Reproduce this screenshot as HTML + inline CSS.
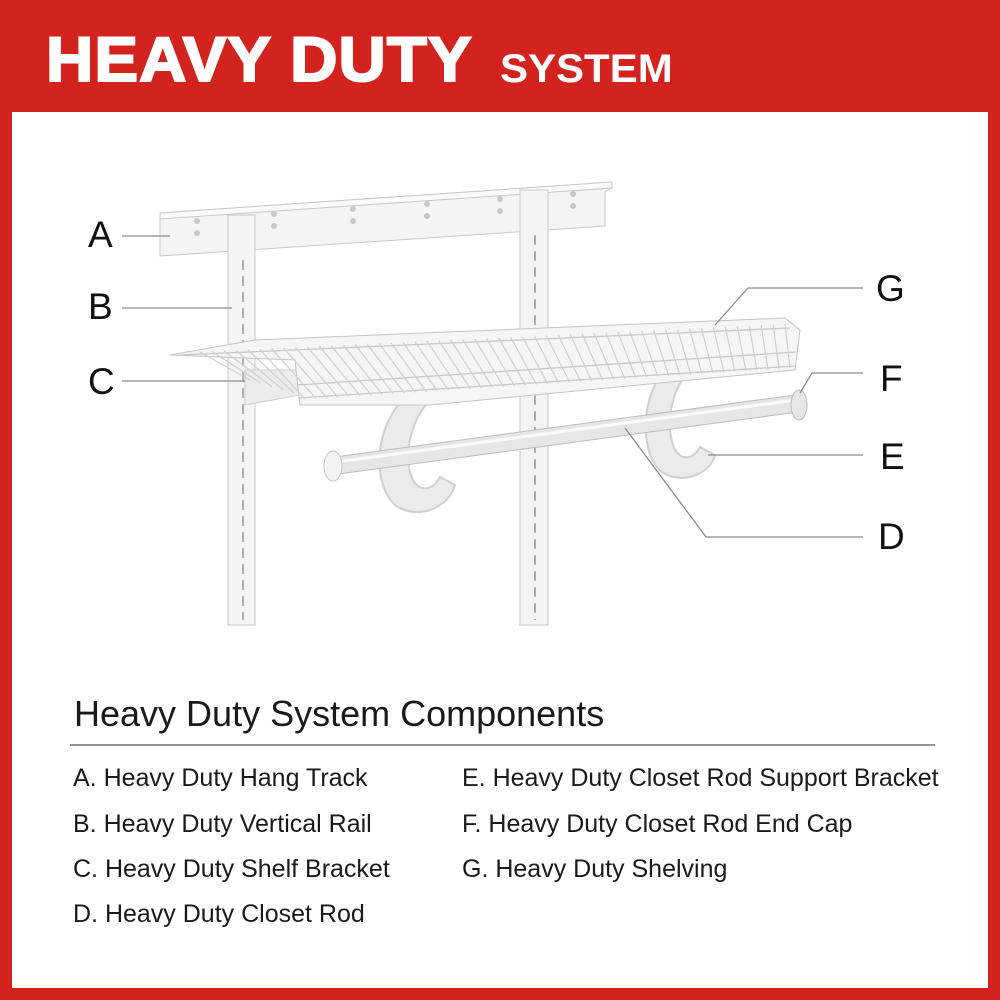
<!DOCTYPE html>
<html><head><meta charset="utf-8"><style>
html,body{margin:0;padding:0}
body{width:1000px;height:1000px;background:#d3231f;position:relative;overflow:hidden;font-family:"Liberation Sans",Arial,sans-serif}
.inner{position:absolute;left:12px;top:112px;width:976px;height:876px;background:#fff}
.t{position:absolute;color:#fff;font-weight:bold;white-space:nowrap;transform-origin:left top}
.lbl{position:absolute;font-size:37px;color:#111;line-height:1}
.item{position:absolute;font-size:25px;color:#1a1a1a;white-space:nowrap;line-height:1}
</style></head><body>
<div class="t" style="left:46px;top:24px;font-size:63px;letter-spacing:1px;transform:scaleX(1.04);-webkit-text-stroke:2px #fff">HEAVY DUTY</div>
<div class="t" style="left:500px;top:47px;font-size:40px;transform:scaleX(1.05)">SYSTEM</div>
<div class="inner"></div>
<svg style="position:absolute;left:0;top:0" width="1000" height="1000">
 <g fill="#f4f4f5" stroke="#c8c8cc" stroke-width="1">
  <polygon points="160,213 612,182 612,188 605,192 605,226 160,256"/>
  <polygon points="160,213 612,182 612,188 160,219" fill="#fafafa"/>
  <rect x="228" y="215" width="27" height="410"/>
  <rect x="520" y="190" width="28" height="435"/>
 </g>
 <g stroke="#b0b0b4" stroke-width="2">
  <line x1="243" y1="260" x2="243" y2="620" stroke-dasharray="10,6"/>
  <line x1="535" y1="235" x2="535" y2="620" stroke-dasharray="10,6"/>
 </g>
 <g fill="#c8c8cc">
  <circle cx="197" cy="221" r="3"/><circle cx="197" cy="233" r="3"/>
  <circle cx="274" cy="214" r="3"/><circle cx="274" cy="226" r="3"/>
  <circle cx="353" cy="209" r="3"/><circle cx="353" cy="221" r="3"/>
  <circle cx="427" cy="204" r="3"/><circle cx="427" cy="216" r="3"/>
  <circle cx="500" cy="199" r="3"/><circle cx="500" cy="211" r="3"/>
  <circle cx="573" cy="194" r="3"/><circle cx="573" cy="206" r="3"/>
 </g>
 <polygon points="245,370 300,370 300,395 245,405" fill="#ececee" stroke="#ccc"/>
 <g fill="#ebebee" stroke="#cfcfd3" stroke-width="2">
  <path d="M425,385 C375,405 368,480 395,505 C415,520 448,510 455,485 L440,477 C432,492 418,492 412,478 C403,455 410,420 432,398 Z"/>
  <path d="M688,352 C640,372 635,450 662,472 C680,485 710,475 715,455 L700,447 C692,462 678,460 673,445 C665,420 672,385 695,365 Z"/>
 </g>
 <polygon points="170,355 255,340 785,318 800,330 795,370 430,405 300,405 295,360" fill="#f5f5f7" stroke="#c4c4c8"/>
 <g stroke="#c8c8cc" stroke-width="1.3">
  <line x1="180" y1="355" x2="790" y2="328"/>
  <line x1="297" y1="385" x2="796" y2="352"/>
  <line x1="298" y1="398" x2="795" y2="366"/>
 </g>
 <g stroke="#cfcfd3" stroke-width="1.2" id="wires"></g>
 <polygon points="335,457 795,395 798,412 338,474" fill="#e6e6e9" stroke="#bdbdc1"/>
 <line x1="336" y1="462" x2="796" y2="400" stroke="#fafafa" stroke-width="3"/>
 <ellipse cx="333" cy="466" rx="9" ry="15" fill="#f4f4f6" stroke="#c4c4c8"/>
 <ellipse cx="799" cy="405" rx="8" ry="15" fill="#e6e6e9" stroke="#bbb"/>
 <g stroke="#8a8a8a" stroke-width="1.3" fill="none">
  <line x1="122" y1="236" x2="170" y2="236"/>
  <line x1="122" y1="308" x2="232" y2="308"/>
  <line x1="122" y1="381" x2="245" y2="381"/>
  <polyline points="863,288 748,288 715,325"/>
  <polyline points="863,373 812,373 800,393"/>
  <line x1="863" y1="455" x2="708" y2="455"/>
  <polyline points="863,537 706,537 625,428"/>
 </g>
 <line x1="70" y1="745" x2="935" y2="745" stroke="#555" stroke-width="1.3"/>
</svg>
<script>
var g=document.getElementById('wires'),s='';
for(var i=0;i<50;i++){var t=i/49;var xb=200+t*585,yb=352-t*28,xf=xb+45*(1-t)+5,yf=403-t*35;
if(xf<300){yf=yb+ (xf-170)*0.35;}
s+='<line x1="'+xb.toFixed(1)+'" y1="'+yb.toFixed(1)+'" x2="'+xf.toFixed(1)+'" y2="'+yf.toFixed(1)+'"/>';}
g.innerHTML=s;
</script>
<div class="lbl" style="left:88px;top:216px">A</div>
<div class="lbl" style="left:88px;top:288px">B</div>
<div class="lbl" style="left:88px;top:363px">C</div>
<div class="lbl" style="left:876px;top:270px">G</div>
<div class="lbl" style="left:880px;top:360px">F</div>
<div class="lbl" style="left:880px;top:438px">E</div>
<div class="lbl" style="left:878px;top:518px">D</div>
<div style="position:absolute;left:74px;top:693px;font-size:36px;color:#1a1a1a;white-space:nowrap">Heavy Duty System Components</div>
<div class="item" style="left:73px;top:766px">A. Heavy Duty Hang Track</div>
<div class="item" style="left:73px;top:812px">B. Heavy Duty Vertical Rail</div>
<div class="item" style="left:73px;top:857px">C. Heavy Duty Shelf Bracket</div>
<div class="item" style="left:73px;top:902px">D. Heavy Duty Closet Rod</div>
<div class="item" style="left:462px;top:766px">E. Heavy Duty Closet Rod Support Bracket</div>
<div class="item" style="left:462px;top:812px">F. Heavy Duty Closet Rod End Cap</div>
<div class="item" style="left:462px;top:857px">G. Heavy Duty Shelving</div>
</body></html>
